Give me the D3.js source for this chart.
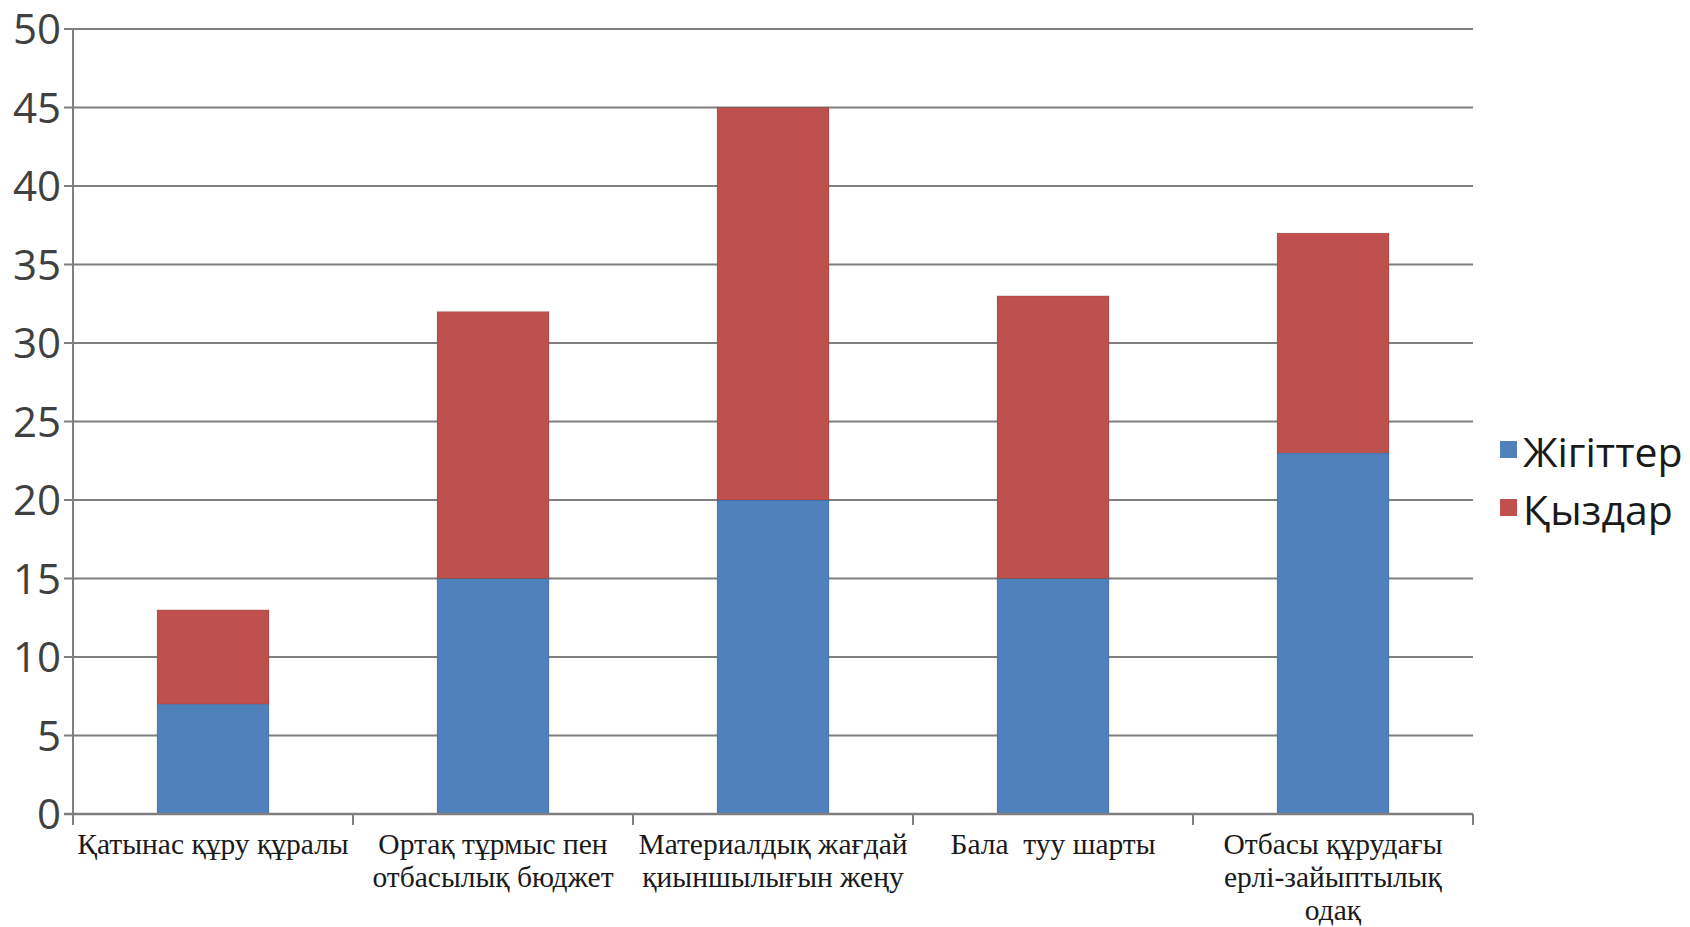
<!DOCTYPE html>
<html>
<head>
<meta charset="utf-8">
<script src="https://cdn.jsdelivr.net/npm/d3@7"></script>
<style>
  html, body { margin: 0; padding: 0; background: #fff; }
  svg { display: block; }
</style>
</head>
<body>
<svg id="chart" width="1690" height="927"></svg>
<script>
const categories = [
  ["Қатынас құру құралы"],
  ["Ортақ тұрмыс пен", "отбасылық бюджет"],
  ["Материалдық жағдай", "қиыншылығын жеңу"],
  ["Бала  туу шарты"],
  ["Отбасы құрудағы", "ерлі-зайыптылық", "одақ"]
];
const seriesNames = ["Жігіттер", "Қыздар"];
const boys = [7, 15, 20, 15, 23];
const girls = [6, 17, 25, 18, 14];
const yTicks = [0, 5, 10, 15, 20, 25, 30, 35, 40, 45, 50];
const colors = ["#4F81BD", "#C0504D"];

(function () {
const svg = d3.select("#chart");
const pL = 73, pR = 1473, pT = 29, pB = 814;

const x = d3.scaleBand()
  .domain(d3.range(categories.length))
  .range([pL, pR])
  .paddingInner(0.6)
  .paddingOuter(0.3);
const y = d3.scaleLinear().domain([0, 50]).range([pB, pT]);

// gridlines
svg.append("g")
  .selectAll("line")
  .data(yTicks)
  .join("line")
  .attr("x1", pL - 9).attr("x2", pR)
  .attr("y1", d => y(d)).attr("y2", d => y(d))
  .attr("stroke", "#7f7f7f").attr("stroke-width", 2);

// stacked data
const rows = boys.map((b, i) => ({ i, b, g: girls[i] }));
const stack = d3.stack().keys(["b", "g"])(rows);

svg.append("g")
  .selectAll("g")
  .data(stack)
  .join("g")
  .attr("fill", (d, k) => colors[k])
  .selectAll("rect")
  .data(d => d)
  .join("rect")
  .attr("x", d => x(d.data.i))
  .attr("width", x.bandwidth())
  .attr("y", d => y(d[1]))
  .attr("height", d => y(d[0]) - y(d[1]))
  .attr("stroke", "rgba(0,0,0,0.12)")
  .attr("stroke-width", 1);

// y axis line
svg.append("line")
  .attr("x1", pL).attr("x2", pL)
  .attr("y1", y(50)).attr("y2", pB)
  .attr("stroke", "#7f7f7f").attr("stroke-width", 2);

// x axis line
svg.append("line")
  .attr("x1", pL - 9).attr("x2", pR)
  .attr("y1", pB).attr("y2", pB)
  .attr("stroke", "#7f7f7f").attr("stroke-width", 2.5);

// category boundary ticks
svg.append("g")
  .selectAll("line")
  .data(d3.range(categories.length + 1))
  .join("line")
  .attr("x1", k => pL + k * x.step())
  .attr("x2", k => pL + k * x.step())
  .attr("y1", pB).attr("y2", pB + 11)
  .attr("stroke", "#7f7f7f").attr("stroke-width", 2);

// y labels
svg.append("g")
  .selectAll("text")
  .data(yTicks)
  .join("text")
  .attr("x", 61)
  .attr("y", d => y(d))
  .attr("dy", "0.36em")
  .attr("text-anchor", "end")
  .attr("font-family", "'Open Sans', sans-serif")
  .attr("font-size", 42)
  .attr("fill", "#404040")
  .text(d => d);

// x labels
const xl = svg.append("g")
  .selectAll("text")
  .data(categories)
  .join("text")
  .attr("font-family", "'Liberation Serif', serif")
  .attr("font-size", 29.5)
  .attr("fill", "#1a1a1a")
  .attr("text-anchor", "middle")
  .attr("xml:space", "preserve");
xl.selectAll("tspan")
  .data((d, i) => d.map(t => ({ t, i })))
  .join("tspan")
  .attr("x", d => x(d.i) + x.bandwidth() / 2)
  .attr("y", (d, j) => 854 + j * 33)
  .text(d => d.t);

// legend
const lg = svg.append("g");
seriesNames.forEach((n, k) => {
  lg.append("rect")
    .attr("x", 1500).attr("y", 441 + k * 58)
    .attr("width", 17).attr("height", 17)
    .attr("fill", colors[k]);
  lg.append("text")
    .attr("x", 1523).attr("y", 467 + k * 58)
    .attr("font-family", "'Open Sans', sans-serif")
    .attr("font-size", 41)
    .attr("fill", "#1a1a1a")
    .text(n);
});
})();
</script>
</body>
</html>
